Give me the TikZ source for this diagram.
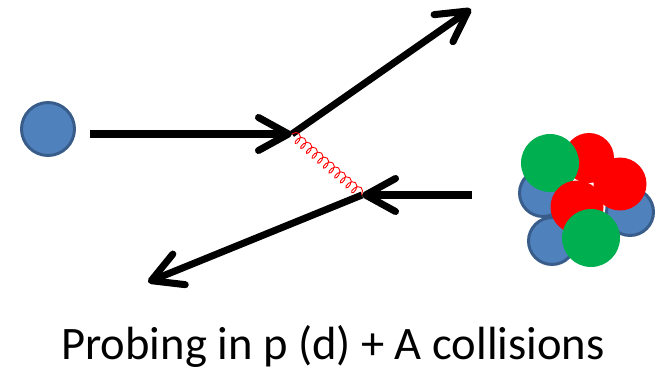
\documentclass[tikz,border=0pt]{standalone}
\usepackage{fontspec}
\setmainfont{Carlito}
\usetikzlibrary{arrows.meta,decorations.pathmorphing}
\definecolor{nucblue}{HTML}{4F81BD}
\definecolor{nucedge}{HTML}{385D8A}
\definecolor{nucred}{HTML}{FF0000}
\definecolor{nucgreen}{HTML}{00B050}
\tikzstyle{proton}=[draw=nucedge, fill=nucblue, shape=circle, line width=1.7pt, inner sep=0pt, minimum size=1.06cm]
\tikzstyle{neutron}=[draw=nucedge, fill=nucblue, shape=circle, line width=1.7pt, inner sep=0pt, minimum size=0.94cm]
\tikzstyle{quark}=[shape=circle, inner sep=0pt]
\tikzstyle{track}=[line width=4pt, -{Straight Barb[length=6mm,width=6.6mm,round]}]
\tikzstyle{gluon}=[nucred, line width=0.5pt, decorate, decoration={coil, aspect=0.6, segment length=0.15cm, amplitude=0.1cm}]

\begin{document}
\begin{tikzpicture}[x=0.02cm,y=-0.02cm]
            \useasboundingbox (0,0) rectangle (665,375);
            % beam particle and the two vertices
            \node[proton] (beam) at (48,129) {};
            \coordinate (start) at (90,134);
            \coordinate (v1) at (292,134);
            \coordinate (out1) at (471,9);
            \coordinate (in2) at (472,195);
            \coordinate (v2) at (362,195);
            \coordinate (out2) at (148,282);
            % nucleus
            \node[neutron] (n1) at (543,193) {};
            \node[neutron] (n2) at (552,241) {};
            \node[neutron] (n3) at (630,212) {};
            \node[quark, fill=nucred, minimum size=1.0cm] (r1) at (589,158) {};
            \node[quark, fill=nucgreen, minimum size=1.16cm] (g1) at (550,163) {};
            \node[quark, fill=nucred, minimum size=1.06cm] (r2) at (620,184) {};
            \node[quark, fill=nucred, minimum size=1.06cm] (r3) at (577,207) {};
            \node[quark, fill=nucgreen, minimum size=1.16cm] (g2) at (591,238) {};
            % tracks
            \draw[track] (start) -- (v1);
            \draw[track] (v1) -- (out1);
            \draw[track] (in2) -- (v2);
            \draw[track] (v2) -- (out2);
            \draw[gluon] (v1) -- (v2);
            \node[anchor=base] (caption) at (333,359) {\fontsize{26.5}{30}\selectfont Probing in p (d) + A collisions};
\end{tikzpicture}
\end{document}
